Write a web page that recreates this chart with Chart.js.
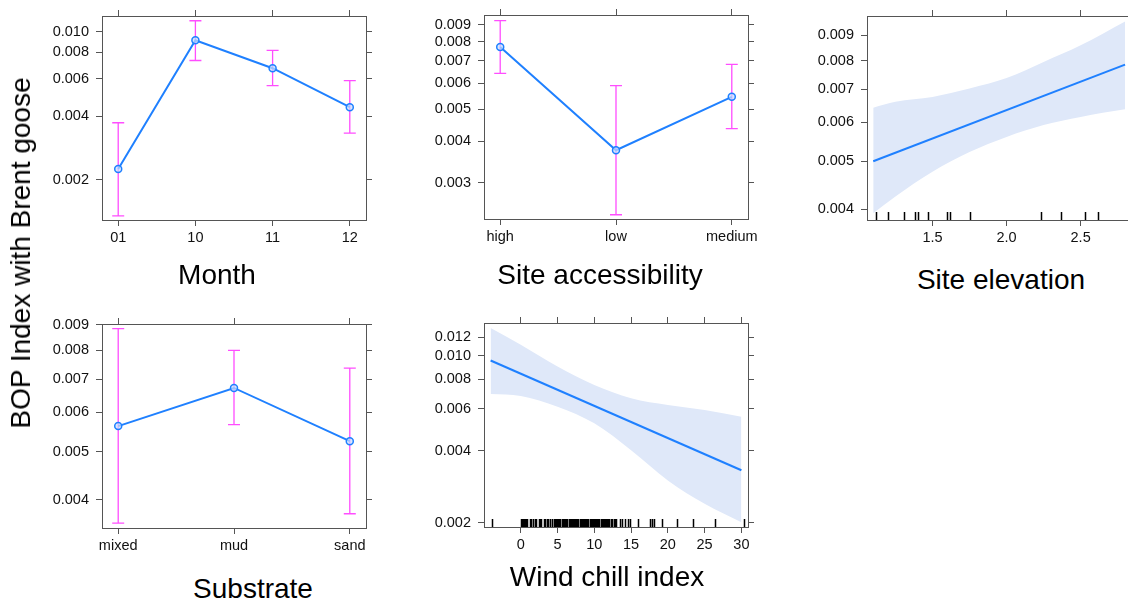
<!DOCTYPE html>
<html>
<head>
<meta charset="utf-8">
<script src="https://cdn.jsdelivr.net/npm/chart.js@4.4.1/dist/chart.umd.min.js"></script>
<style>
  body { margin: 0; background: #fff; overflow: hidden; }
  #wrap { position: relative; width: 1128px; height: 603px; overflow: hidden; font-family: 'Liberation Sans', Arial, sans-serif; }
  #wrap canvas { position: absolute; }
  .ttl { position: absolute; font-size: 28px; line-height: 1; color: #000; white-space: nowrap; transform: translate(-50%, -50%); }
  .ylab { position: absolute; font-size: 28px; line-height: 1; color: #000; white-space: nowrap; transform: translate(-50%, -50%) rotate(-90deg); }
</style>
</head>
<body>
<div id="wrap">
  <canvas id="cMonth" width="364" height="264" style="left:32px;top:-4px"></canvas>
  <canvas id="cAccess" width="364" height="264" style="left:414px;top:-5px"></canvas>
  <canvas id="cElev" width="364" height="264" style="left:797px;top:-4px"></canvas>
  <canvas id="cSubstrate" width="364" height="264" style="left:32px;top:304px"></canvas>
  <canvas id="cWind" width="364" height="264" style="left:414px;top:303px"></canvas>

  <div class="ttl" style="left:217px;top:275px">Month</div>
  <div class="ttl" style="left:600px;top:275px">Site accessibility</div>
  <div class="ttl" style="left:1001px;top:280px">Site elevation</div>
  <div class="ttl" style="left:253px;top:589px">Substrate</div>
  <div class="ttl" style="left:607px;top:577px">Wind chill index</div>
  <div class="ylab" style="left:21px;top:253px">BOP Index with Brent goose</div>
</div>

<script>
// 월 (Month)
const monthCats = ['01', '10', '11', '12'];
const monthFit = [0.00225, 0.00913, 0.00674, 0.00441];
const monthLow = [0.00135, 0.00733, 0.00558, 0.00332];
const monthHigh = [0.00372, 0.0113, 0.00818, 0.00589];
const monthTicks = [0.002, 0.004, 0.006, 0.008, 0.010];

// 접근성 (Site accessibility)
const accessCats = ['high', 'low', 'medium'];
const accessFit = [0.00771, 0.00376, 0.00545];
const accessLow = [0.00642, 0.0024, 0.00437];
const accessHigh = [0.00926, 0.00589, 0.00683];
const accessTicks = [0.003, 0.004, 0.005, 0.006, 0.007, 0.008, 0.009];

// 기질 (Substrate)
const substrateCats = ['mixed', 'mud', 'sand'];
const substrateFit = [0.00563, 0.00672, 0.00525];
const substrateLow = [0.00359, 0.00567, 0.00375];
const substrateHigh = [0.00885, 0.0080, 0.00737];
const substrateTicks = [0.004, 0.005, 0.006, 0.007, 0.008, 0.009];

// 고도 (Site elevation)
const elevBandX = [1.1, 1.25, 1.5, 1.75, 2.0, 2.25, 2.5, 2.8];
const elevUpper = [0.00642, 0.0066, 0.00675, 0.00702, 0.00737, 0.00795, 0.00859, 0.0096];
const elevLower = [0.00392, 0.00424, 0.00476, 0.00522, 0.0056, 0.00592, 0.00615, 0.00637];
const elevLineX = [1.1, 2.8];
const elevLine = [0.005, 0.00785];
const elevRug = [1.12, 1.2, 1.31, 1.38, 1.4, 1.47, 1.6, 1.62, 1.75, 2.23, 2.37, 2.53, 2.62];
const elevXTicks = [1.5, 2.0, 2.5];
const elevYTicks = [0.004, 0.005, 0.006, 0.007, 0.008, 0.009];

// 풍속냉각지수 (Wind chill index)
const windBandX = [-4.1, 0, 5, 10, 15, 20, 25, 30];
const windUpper = [0.01309, 0.01114, 0.00903, 0.00756, 0.00665, 0.00623, 0.00593, 0.00556];
const windLower = [0.00693, 0.0068, 0.00613, 0.00522, 0.00403, 0.00301, 0.0024, 0.00201];
const windLineX = [-4.1, 30];
const windLine = [0.00957, 0.00332];
const windRug = [-3.9,
  0.0, 0.15, 0.3, 0.45, 0.6, 0.75, 0.9, 1.3, 1.45, 1.6, 1.9, 2.1, 2.5, 2.65, 2.8, 3.2, 3.35,
  3.5, 3.65, 4.0, 4.2, 4.5, 4.65, 4.8, 4.95, 5.1, 5.25, 5.4, 5.55, 5.7, 5.9, 6.05, 6.2, 6.35,
  6.5, 6.65, 6.8, 6.95, 7.1, 7.25, 7.4, 7.55, 7.7, 7.85, 8.0, 8.15, 8.3, 8.45, 8.6, 8.75, 8.9,
  9.05, 9.2, 9.35, 9.5, 9.65, 9.8, 9.95, 10.1, 10.25, 10.4, 10.55, 10.7, 10.85, 11.0, 11.15,
  11.3, 11.45, 11.6, 11.75, 11.9, 12.05, 12.25, 12.45, 12.65, 12.85, 13.0, 13.45, 13.7, 14.15,
  14.6, 14.85, 16.0, 17.55, 17.8, 18.1, 19.2, 21.3, 23.4, 26.4, 30.4];
const windXTicks = [0, 5, 10, 15, 20, 25, 30];
const windYTicks = [0.002, 0.004, 0.006, 0.008, 0.010, 0.012];

const FONT = "'Liberation Sans', Arial, sans-serif";
const AXIS_COL = '#555555';
const LINE_COL = '#1f80ff';
const CI_COL = '#ff4dff';
const BAND_COL = '#dfe8f9';

// 신뢰구간 에러바
const errorBars = {
  id: 'errorBars',
  beforeDatasetsDraw(chart, args, opts) {
    if (!opts.low) return;
    const { ctx, scales: { x, y } } = chart;
    ctx.save();
    ctx.strokeStyle = CI_COL;
    ctx.lineWidth = 1.3;
    opts.low.forEach((lo, i) => {
      const px = x.getPixelForValue(i);
      const y1 = y.getPixelForValue(lo);
      const y2 = y.getPixelForValue(opts.high[i]);
      ctx.beginPath();
      ctx.moveTo(px, y1); ctx.lineTo(px, y2);
      ctx.moveTo(px - 6, y1); ctx.lineTo(px + 6, y1);
      ctx.moveTo(px - 6, y2); ctx.lineTo(px + 6, y2);
      ctx.stroke();
    });
    ctx.restore();
  }
};

// 러그 표시
const rug = {
  id: 'rug',
  afterDatasetsDraw(chart, args, opts) {
    if (!opts.values) return;
    const { ctx, chartArea, scales: { x } } = chart;
    ctx.save();
    ctx.strokeStyle = '#000';
    ctx.lineWidth = 1.5;
    ctx.beginPath();
    opts.values.forEach(v => {
      const px = Math.round(x.getPixelForValue(v)) + 0.5;
      ctx.moveTo(px, chartArea.bottom);
      ctx.lineTo(px, chartArea.bottom - 8);
    });
    ctx.stroke();
    ctx.restore();
  }
};

Chart.register(errorBars, rug);

function axis(pos, type, min, max, tickVals, fmt, showLabels, size, pad) {
  return {
    type: type,
    position: pos,
    min: min,
    max: max,
    bounds: 'data',
    afterBuildTicks: s => { s.ticks = tickVals.map(v => ({ value: v })); },
    afterFit: s => { if (s.isHorizontal()) s.height = size; else s.width = size; },
    grid: { drawOnChartArea: false, drawTicks: true, tickLength: 6, color: AXIS_COL, lineWidth: 1 },
    border: { display: true, color: AXIS_COL, width: 1 },
    ticks: {
      display: showLabels,
      callback: fmt,
      color: '#111',
      font: { family: FONT, size: 14.5 },
      padding: pad,
      maxRotation: 0,
      autoSkip: false
    }
  };
}

const fmtY = v => Number(v).toFixed(3);
const fmtWind = v => String(v);
const fmtElev = v => Number(v).toFixed(1);

function scalesFor(xMin, xMax, xTicks, xFmt, yMin, yMax, yTicks) {
  return {
    x: axis('bottom', 'linear', xMin, xMax, xTicks, xFmt, true, 40, 3),
    x2: axis('top', 'linear', xMin, xMax, xTicks, xFmt, false, 20, 3),
    y: axis('left', 'logarithmic', yMin, yMax, yTicks, fmtY, true, 70, 7),
    y2: axis('right', 'logarithmic', yMin, yMax, yTicks, fmtY, false, 30, 7)
  };
}

const baseOptions = {
  responsive: false,
  animation: false,
  events: [],
  layout: { padding: 0 }
};

function factorPanel(id, cats, fit, low, high, yTicks, yMin, yMax, pad) {
  const idx = cats.map((c, i) => i);
  new Chart(document.getElementById(id), {
    type: 'line',
    data: {
      datasets: [{
        data: idx.map(i => ({ x: i, y: fit[i] })),
        borderColor: LINE_COL,
        borderWidth: 2,
        pointRadius: 3.5,
        pointBorderWidth: 1.5,
        pointBorderColor: LINE_COL,
        pointBackgroundColor: 'rgba(200,222,255,0.7)',
        tension: 0
      }]
    },
    options: Object.assign({}, baseOptions, {
      scales: scalesFor(-pad, cats.length - 1 + pad, idx, v => cats[v], yMin, yMax, yTicks),
      plugins: {
        legend: { display: false },
        tooltip: { enabled: false },
        errorBars: { low: low, high: high }
      }
    })
  });
}

function numericPanel(id, bandX, lower, upper, lineX, line, rugVals, xTicks, xFmt, xMin, xMax, yTicks, yMin, yMax) {
  new Chart(document.getElementById(id), {
    type: 'line',
    data: {
      datasets: [
        {
          data: lineX.map((x, i) => ({ x: x, y: line[i] })),
          borderColor: LINE_COL,
          borderWidth: 2,
          pointRadius: 0,
          fill: false
        },
        {
          data: bandX.map((x, i) => ({ x: x, y: lower[i] })),
          borderWidth: 0,
          borderColor: 'rgba(0,0,0,0)',
          pointRadius: 0,
          cubicInterpolationMode: 'monotone',
          fill: false
        },
        {
          data: bandX.map((x, i) => ({ x: x, y: upper[i] })),
          borderWidth: 0,
          borderColor: 'rgba(0,0,0,0)',
          backgroundColor: BAND_COL,
          pointRadius: 0,
          cubicInterpolationMode: 'monotone',
          fill: 1
        }
      ]
    },
    options: Object.assign({}, baseOptions, {
      scales: scalesFor(xMin, xMax, xTicks, xFmt, yMin, yMax, yTicks),
      plugins: {
        legend: { display: false },
        tooltip: { enabled: false },
        rug: { values: rugVals }
      }
    })
  });
}

factorPanel('cMonth', monthCats, monthFit, monthLow, monthHigh, monthTicks, 0.00129, 0.0119, 0.21);
factorPanel('cAccess', accessCats, accessFit, accessLow, accessHigh, accessTicks, 0.00233, 0.00963, 0.14);
factorPanel('cSubstrate', substrateCats, substrateFit, substrateLow, substrateHigh, substrateTicks, 0.00351, 0.00904, 0.14);

numericPanel('cElev', elevBandX, elevLower, elevUpper, elevLineX, elevLine, elevRug,
  elevXTicks, fmtElev, 1.058, 2.84, elevYTicks, 0.0038, 0.00985);
numericPanel('cWind', windBandX, windLower, windUpper, windLineX, windLine, windRug,
  windXTicks, fmtWind, -5, 30.9, windYTicks, 0.00192, 0.01374);
</script>
</body>
</html>
